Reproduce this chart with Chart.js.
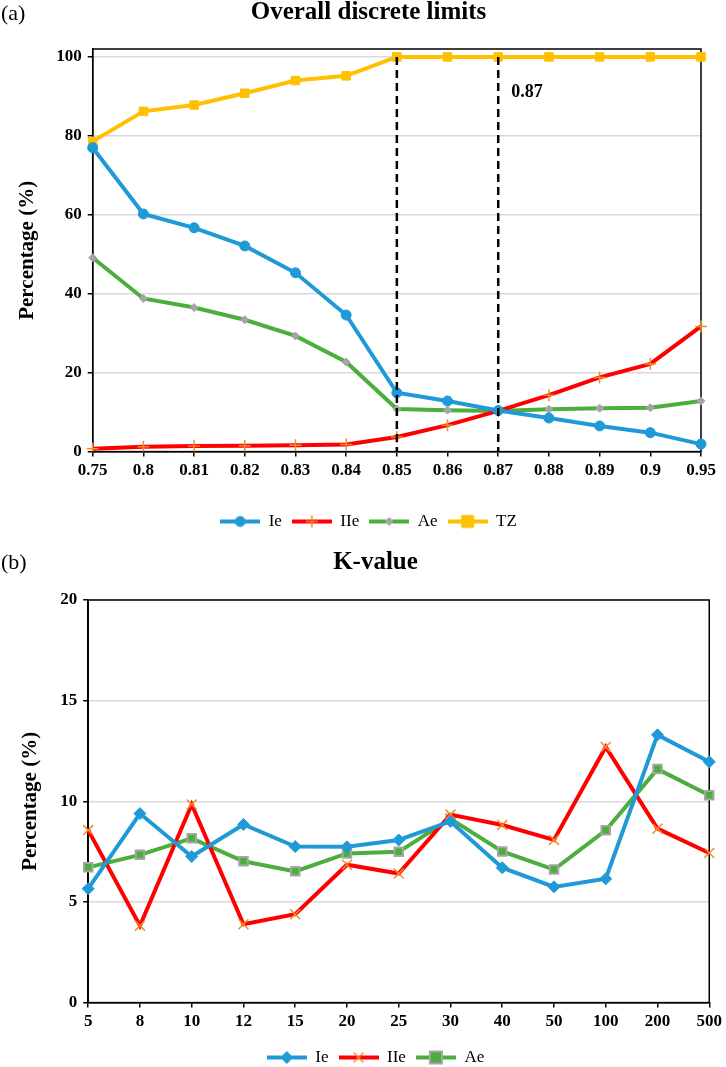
<!DOCTYPE html>
<html lang="en">
<head>
<meta charset="UTF-8">
<title>Overall discrete limits / K-value</title>
<script src="https://cdn.jsdelivr.net/npm/chart.js"></script>
<style>
  body { margin: 0; background: #fff; }
  canvas { display: block; }
</style>
</head>
<body>
<canvas id="chartA" width="726" height="540"></canvas>
<canvas id="chartB" width="726" height="527"></canvas>
<script>
// (a) overall discrete limits
var limitLabels = ['0.75', '0.8', '0.81', '0.82', '0.83', '0.84', '0.85', '0.86', '0.87', '0.88', '0.89', '0.9', '0.95'];
var ieA  = [77.0, 60.2, 56.7, 52.1, 45.3, 34.6, 14.9, 12.8, 10.4, 8.5, 6.5, 4.8, 1.9];
var iieA = [0.7, 1.2, 1.4, 1.5, 1.6, 1.8, 3.7, 6.7, 10.3, 14.3, 18.8, 22.2, 31.7];
var aeA  = [49.1, 38.8, 36.5, 33.4, 29.3, 22.7, 10.8, 10.5, 10.3, 10.7, 11.0, 11.1, 12.8];
var tzA  = [78.6, 86.2, 87.8, 90.8, 94.0, 95.2, 100, 100, 100, 100, 100, 100, 100];
var cutLines = ['0.85', '0.87'];
var cutNote = '0.87';

// (b) K-value
var kLabels = ['5', '8', '10', '12', '15', '20', '25', '30', '40', '50', '100', '200', '500'];
var ieB  = [5.66, 9.39, 7.26, 8.85, 7.75, 7.74, 8.08, 9.0, 6.7, 5.75, 6.15, 13.3, 11.96];
var iieB = [8.57, 3.82, 9.84, 3.89, 4.39, 6.85, 6.41, 9.34, 8.82, 8.08, 12.7, 8.64, 7.43];
var aeB  = [6.72, 7.34, 8.16, 7.02, 6.52, 7.41, 7.49, 9.13, 7.51, 6.61, 8.56, 11.6, 10.3];

var serif = "'Liberation Serif', 'Times New Roman', serif";
var BLUE = '#1f9ad6', RED = '#ff0000', GREEN = '#4cae3c', GOLD = '#ffc000', ORANGE = '#f28c28', GREY = '#a5a5a5';

// small marker painter for the legend icons (line + marker)
function marker(g, style, x, y, r) {
    g.beginPath();
    if (style === 'circle') {
        g.arc(x, y, r, 0, Math.PI * 2); g.fill(); g.stroke();
    } else if (style === 'rect') {
        g.rect(x - r, y - r, 2 * r, 2 * r); g.fill(); g.stroke();
    } else if (style === 'rectRot') {
        g.moveTo(x, y - r); g.lineTo(x + r, y); g.lineTo(x, y + r); g.lineTo(x - r, y);
        g.closePath(); g.fill(); g.stroke();
    } else if (style === 'cross') {
        g.moveTo(x - r, y); g.lineTo(x + r, y); g.moveTo(x, y - r); g.lineTo(x, y + r); g.stroke();
    } else if (style === 'crossRot') {
        var d = r * 0.7071;
        g.moveTo(x - d, y - d); g.lineTo(x + d, y + d); g.moveTo(x + d, y - d); g.lineTo(x - d, y + d); g.stroke();
    }
}

function legendIcon(ds) {
    var c = document.createElement('canvas');
    c.width = 40; c.height = 16;
    var g = c.getContext('2d');
    g.strokeStyle = ds.borderColor; g.lineWidth = ds.borderWidth;
    g.beginPath(); g.moveTo(0, 8); g.lineTo(40, 8); g.stroke();
    g.fillStyle = ds.pointBackgroundColor; g.strokeStyle = ds.pointBorderColor; g.lineWidth = ds.pointBorderWidth;
    marker(g, ds.pointStyle, 20, 8, ds.pointRadius);
    return c;
}

function series(label, data, color, style, r, fill, edge, edgeW) {
    return {
        label: label, data: data,
        borderColor: color, backgroundColor: color, borderWidth: 4,
        pointStyle: style, pointRadius: r, pointHoverRadius: r,
        pointBackgroundColor: fill, pointBorderColor: edge, pointBorderWidth: edgeW,
        tension: 0, fill: false
    };
}

// box round the plot area
var framePlugin = {
    id: 'frame',
    beforeDatasetsDraw: function(chart) {
        var a = chart.chartArea, c = chart.ctx;
        c.save();
        c.strokeStyle = '#000'; c.lineWidth = 1.5;
        c.strokeRect(a.left, a.top, a.right - a.left, a.bottom - a.top);
        c.restore();
    }
};

// "(a)" / "(b)" tags
var tagPlugin = {
    id: 'tag',
    afterDraw: function(chart, args, opts) {
        var c = chart.ctx;
        c.save();
        c.fillStyle = '#000';
        c.font = '22px ' + serif;
        c.textBaseline = 'middle';
        c.fillText(opts.text, 1, opts.y);
        c.restore();
    }
};

// dashed cut-off lines in (a)
var cutPlugin = {
    id: 'cuts',
    afterDatasetsDraw: function(chart) {
        var x = chart.scales.x, y = chart.scales.y, c = chart.ctx;
        c.save();
        c.strokeStyle = '#000'; c.lineWidth = 2.5; c.setLineDash([8, 5]);
        cutLines.forEach(function(v) {
            var px = x.getPixelForValue(limitLabels.indexOf(v));
            c.beginPath(); c.moveTo(px, y.getPixelForValue(100)); c.lineTo(px, y.getPixelForValue(0)); c.stroke();
        });
        c.setLineDash([]);
        c.fillStyle = '#000';
        c.font = 'bold 18px ' + serif;
        c.textBaseline = 'middle';
        c.fillText(cutNote, x.getPixelForValue(limitLabels.indexOf(cutNote)) + 13, y.getPixelForValue(91));
        c.restore();
    }
};

function options(title, yMax, yStep, pad, titlePad, yTitlePad, tag, extraBottom, legendPad) {
    return {
        responsive: false,
        animation: false,
        layout: { padding: pad },
        plugins: {
            title: {
                display: true, text: title, color: '#000',
                font: { family: serif, size: 25, weight: 'bold' },
                padding: titlePad
            },
            legend: {
                position: 'bottom',
                labels: {
                    usePointStyle: true, pointStyleWidth: 40, padding: legendPad,
                    color: '#000', font: { family: serif, size: 17 },
                    generateLabels: function(chart) {
                        return chart.data.datasets.map(function(ds, i) {
                            return {
                                text: ds.label, pointStyle: legendIcon(ds), datasetIndex: i,
                                fontColor: '#000', hidden: false, lineWidth: 0,
                                strokeStyle: 'rgba(0,0,0,0)', fillStyle: 'rgba(0,0,0,0)'
                            };
                        });
                    }
                }
            },
            tooltip: { enabled: false },
            tag: tag
        },
        scales: {
            x: {
                offset: false,
                grid: { drawOnChartArea: false, color: '#000', tickLength: 5, lineWidth: 1.5 },
                border: { color: '#000', width: 1.5 },
                ticks: { color: '#000', font: { family: serif, size: 17, weight: 'bold' }, maxRotation: 0, autoSkip: false, padding: 4 },
                afterFit: function(scale) { scale.height += extraBottom; }
            },
            y: {
                min: 0, max: yMax,
                grid: { color: '#d9d9d9', lineWidth: 1.5, tickColor: '#000', tickLength: 5 },
                border: { color: '#000', width: 1.5 },
                ticks: { stepSize: yStep, includeBounds: false, color: '#000', font: { family: serif, size: 17, weight: 'bold' }, padding: 6 },
                title: {
                    display: true, text: 'Percentage (%)', color: '#000',
                    font: { family: serif, size: 21, weight: 'bold' },
                    padding: yTitlePad
                }
            }
        }
    };
}

new Chart(document.getElementById('chartA'), {
    type: 'line',
    data: {
        labels: limitLabels,
        datasets: [
            series('Ie', ieA, BLUE, 'circle', 5, BLUE, BLUE, 1),
            series('IIe', iieA, RED, 'cross', 6, ORANGE, ORANGE, 1.5),
            series('Ae', aeA, GREEN, 'rectRot', 4, GREY, GREY, 1),
            series('TZ', tzA, GOLD, 'rect', 6, GOLD, GOLD, 1)
        ]
    },
    options: options('Overall discrete limits', 102, 20,
        { left: 36, right: 25, top: 0, bottom: 0 },
        { top: -2, bottom: 21 },
        { top: -21, bottom: 10 },
        { text: '(a)', y: 14 }, 18, 10),
    plugins: [framePlugin, tagPlugin, cutPlugin]
});

new Chart(document.getElementById('chartB'), {
    type: 'line',
    data: {
        labels: kLabels,
        datasets: [
            series('Ie', ieB, BLUE, 'rectRot', 6, BLUE, BLUE, 1),
            series('IIe', iieB, RED, 'crossRot', 7, ORANGE, ORANGE, 1.5),
            series('Ae', aeB, GREEN, 'rect', 6, GREEN, GREY, 2)
        ]
    },
    options: options('K-value', 20, 5,
        { left: 36, right: 11, top: 0, bottom: -9 },
        { top: 8, bottom: 22 },
        { top: -18, bottom: 11 },
        { text: '(b)', y: 23 }, 3, 10),
    plugins: [framePlugin, tagPlugin]
});
</script>
</body>
</html>
